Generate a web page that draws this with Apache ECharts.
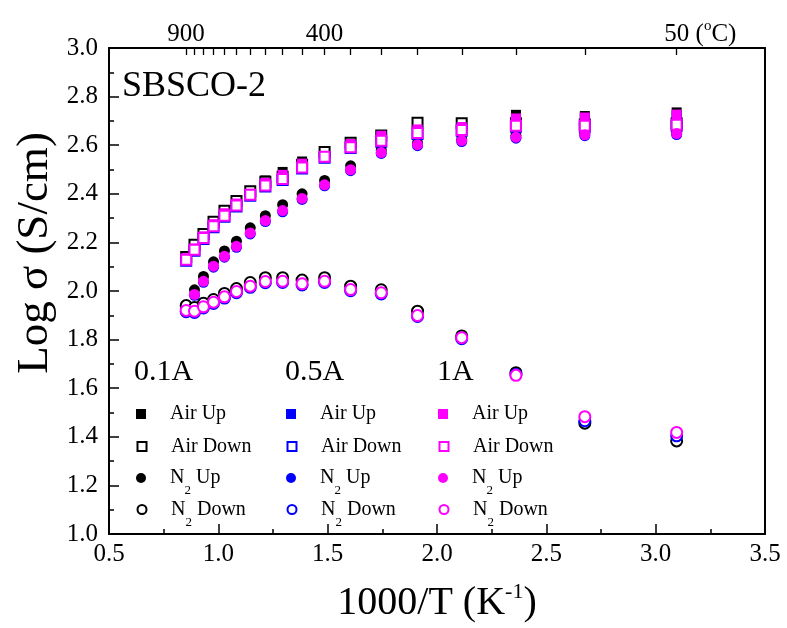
<!DOCTYPE html>
<html>
<head>
<meta charset="utf-8">
<script src="https://cdn.jsdelivr.net/npm/echarts@6/dist/echarts.min.js"></script>
<style>html,body{margin:0;padding:0;background:#fff}#c{width:787px;height:628px}</style>
</head>
<body>
<div id="c"></div>
<script>
// Measurement temperatures (°C) and corresponding 1000/T (K^-1)
const tempsC = [900,850,800,750,700,650,600,550,500,450,400,350,300,250,200,150,100,50];
const invT = [0.853,0.891,0.932,0.978,1.028,1.083,1.146,1.215,1.294,1.383,1.486,1.605,1.745,1.911,2.113,2.361,2.676,3.096];
const topLabelTemps = [900, 400, 50];

// 0.1A (black)
const airUp01   = [2.140,2.185,2.230,2.280,2.325,2.370,2.410,2.455,2.490,2.533,2.560,2.605,2.640,2.670,2.680,2.725,2.720,2.735];
const airDown01 = [2.140,2.190,2.235,2.285,2.330,2.370,2.410,2.450,2.470,2.520,2.572,2.610,2.640,2.692,2.690,2.690,2.685,2.690];
const n2Up01    = [null,2.005,2.060,2.120,2.165,2.205,2.260,2.310,2.355,2.400,2.455,2.515,2.580,2.610,2.625,2.640,2.648,2.652];
const n2Down01  = [1.940,1.932,1.950,1.965,1.990,2.010,2.035,2.055,2.055,2.045,2.055,2.020,2.005,1.917,1.815,1.664,1.456,1.383];
// 0.5A (blue)
const airUp05   = [2.132,2.172,2.221,2.271,2.316,2.356,2.397,2.441,2.474,2.520,2.547,2.601,2.635,2.661,2.671,2.706,2.710,2.721];
const airDown05 = [2.125,2.166,2.214,2.262,2.306,2.348,2.392,2.430,2.457,2.504,2.548,2.588,2.614,2.646,2.659,2.676,2.676,2.680];
const n2Up05    = [null,1.982,2.036,2.098,2.139,2.180,2.235,2.286,2.326,2.377,2.433,2.495,2.566,2.598,2.615,2.629,2.639,2.644];
const n2Down05  = [1.915,1.912,1.930,1.949,1.971,1.993,2.015,2.034,2.035,2.025,2.035,2.001,1.988,1.895,1.804,1.656,1.466,1.404];
// 1A (magenta)
const airUp1    = [2.135,2.175,2.225,2.275,2.320,2.360,2.400,2.445,2.478,2.524,2.550,2.605,2.639,2.665,2.675,2.710,2.714,2.726];
const airDown1  = [2.129,2.170,2.218,2.266,2.310,2.352,2.396,2.434,2.461,2.508,2.552,2.592,2.618,2.650,2.663,2.680,2.680,2.684];
const n2Up1     = [null,1.986,2.040,2.102,2.143,2.184,2.239,2.290,2.331,2.381,2.437,2.499,2.570,2.602,2.619,2.633,2.643,2.648];
const n2Down1   = [1.920,1.917,1.935,1.954,1.976,1.998,2.020,2.039,2.040,2.030,2.040,2.006,1.993,1.899,1.808,1.653,1.483,1.418];

const groups = [
  {label:'0.1A', color:'#000000', sets:[airUp01, airDown01, n2Up01, n2Down01]},
  {label:'0.5A', color:'#0000ff', sets:[airUp05, airDown05, n2Up05, n2Down05]},
  {label:'1A',   color:'#ff00ff', sets:[airUp1, airDown1, n2Up1, n2Down1]}
];
const kinds = [
  {name:'Air Up',   symbol:'rect',        size:10},
  {name:'Air Down', symbol:'emptyRect',   size:10},
  {name:'N2 Up',    symbol:'circle',      size:11},
  {name:'N2 Down',  symbol:'emptyCircle', size:11}
];

const FONT = 'Liberation Serif';
const series = [];
groups.forEach(g => {
  kinds.forEach((k, ki) => {
    const vals = g.sets[ki];
    const data = [];
    invT.forEach((x, i) => { if (vals[i] != null) data.push([x, vals[i]]); });
    const empty = k.symbol.indexOf('empty') === 0;
    series.push({
      type:'scatter',
      name: g.label + '|' + k.name,
      data,
      symbol: k.symbol,
      symbolSize: k.size,
      itemStyle: empty ? {color:g.color, borderColor:g.color, borderWidth:1.3, opacity:1}
                       : {color:g.color, borderWidth:0, opacity:1},
      emphasis:{disabled:true}
    });
  });
});

const legendLefts = [136, 286, 438];
const legendTops = [404, 436, 468, 499];
const legends = [];
groups.forEach((g, gi) => {
  kinds.forEach((k, ki) => {
    const empty = k.symbol.indexOf('empty') === 0;
    legends.push({
      data: [g.label + '|' + k.name],
      orient:'vertical',
      left: legendLefts[gi] + (empty ? 0.5 : 0),
      top: legendTops[ki] + (empty ? 0.5 : 0),
      padding:0,
      itemWidth: empty ? 9 : 10, itemHeight: empty ? 9 : 10,
      itemStyle:{borderWidth:1.2},
      selectedMode:false,
      formatter: function(name){
        const lab = name.split('|')[1];
        if (lab.indexOf('N2') === 0) return '{t|N}{s|2}{t|' + lab.slice(2) + '}';
        return '{t|' + lab + '}';
      },
      textStyle:{
        padding:[0,0,0, empty ? 19.5 : 19],
        rich:{
          t:{fontFamily:FONT, fontSize:20, color:'#000', lineHeight:39},
          s:{fontFamily:FONT, fontSize:13, color:'#000', lineHeight:13, verticalAlign:'bottom'}
        }
      }
    });
  });
});

const titleStyle = {fontFamily:FONT, fontSize:30, fontWeight:'normal', color:'#000'};
const chart = echarts.init(document.getElementById('c'), null, {renderer:'canvas'});
chart.setOption({
  animation:false,
  backgroundColor:'#fff',
  grid:{left:109, right:22, top:48, bottom:93, containLabel:false},
  title:[
    {text:'SBSCO-2', left:122, top:69, padding:0, textStyle:{fontFamily:FONT, fontSize:36, fontWeight:'normal', color:'#000'}},
    {text:groups[0].label, left:134, top:357, padding:0, textStyle:titleStyle},
    {text:groups[1].label, left:285, top:357, padding:0, textStyle:titleStyle},
    {text:groups[2].label, left:437, top:357, padding:0, textStyle:titleStyle}
  ],
  legend: legends,
  xAxis:[
    {
      type:'value', position:'bottom', min:0.5, max:3.5, interval:0.5,
      axisLine:{show:true, onZero:false, lineStyle:{color:'#000', width:2}},
      axisTick:{show:true, inside:true, length:10, lineStyle:{color:'#000', width:1.5}},
      minorTick:{show:true, splitNumber:2, length:5, lineStyle:{color:'#000', width:1.5}},
      splitLine:{show:false},
      axisLabel:{fontFamily:FONT, fontSize:25, color:'#000', margin:8, formatter:v=>v.toFixed(1)},
      name:'{n|1000/T (K}{sup|-1}{n|)}', nameLocation:'middle', nameGap:47,
      nameTextStyle:{rich:{
        n:{fontFamily:FONT, fontSize:40, color:'#000', lineHeight:44},
        sup:{fontFamily:FONT, fontSize:22, color:'#000', lineHeight:22, verticalAlign:'top'}
      }}
    },
    {
      type:'value', position:'top', min:0.5, max:3.5,
      axisLine:{show:true, onZero:false, lineStyle:{color:'#000', width:2}},
      axisTick:{show:true, inside:true, length:7, lineStyle:{color:'#000', width:1.3},
        customValues: tempsC.map(t => 1000/(t+273.15))},
      splitLine:{show:false},
      axisLabel:{show:true, margin:-1, customValues: topLabelTemps.map(t => 1000/(t+273.15)),
        formatter:function(v){
          const t = Math.round(1000/v - 273.15);
          if (t === 50) return '{pad|}{n|50}{n| (}{o|o}{n|C)}';
          return '{n|' + t + '}';
        },
        rich:{
          n:{fontFamily:FONT, fontSize:25, color:'#000', lineHeight:30},
          o:{fontFamily:FONT, fontSize:15, color:'#000', lineHeight:12, verticalAlign:'top'},
          pad:{width:48, height:10}
        }
      }
    }
  ],
  yAxis:[
    {
      type:'value', position:'left', min:1.0, max:3.0, interval:0.2,
      axisLine:{show:true, onZero:false, lineStyle:{color:'#000', width:2}},
      axisTick:{show:true, inside:true, length:10, lineStyle:{color:'#000', width:1.5}},
      minorTick:{show:true, splitNumber:2, length:5, lineStyle:{color:'#000', width:1.5}},
      splitLine:{show:false},
      axisLabel:{fontFamily:FONT, fontSize:25, color:'#000', margin:11, formatter:v=>v.toFixed(1)}
    },
    {
      type:'value', position:'right', min:1.0, max:3.0,
      axisLine:{show:true, onZero:false, lineStyle:{color:'#000', width:2}},
      axisTick:{show:false}, axisLabel:{show:false}, splitLine:{show:false}
    }
  ],
  graphic:[{
    type:'text', x:35, y:253, rotation:Math.PI/2,
    style:{text:'Log σ (S/cm)', x:0, y:0, align:'center', verticalAlign:'middle',
      fontFamily:FONT, fontSize:45, fill:'#000'}
  }],
  series
});
</script>
</body>
</html>
